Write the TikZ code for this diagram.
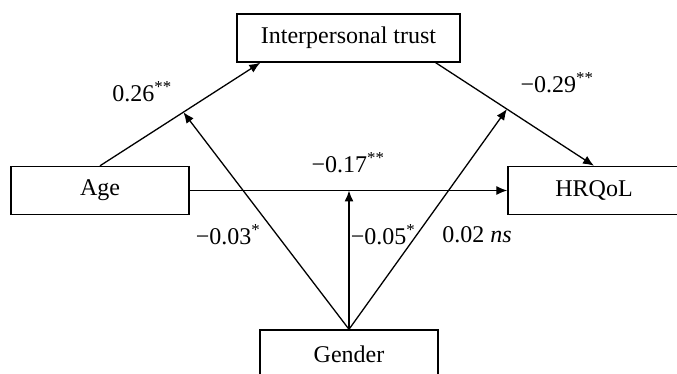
\documentclass[tikz,border=0pt]{standalone}
\usepackage{fontspec}
\setmainfont{Liberation Serif}
\usepackage{tikz}
\usetikzlibrary{arrows.meta}

\tikzset{
  var/.style={draw, line width=1.4pt, minimum height=48pt, inner sep=0pt, font=\fontsize{24}{28}\selectfont},
  path/.style={-{Latex[length=11pt,width=9pt]}, line width=1.3pt},
  coef/.style={inner sep=0pt, font=\fontsize{24}{28}\selectfont}
}

\begin{document}
\begin{tikzpicture}[x=1pt,y=-1pt]
  \clip (0,0) rectangle (677,374);
  % variables
  \node[var, minimum width=223pt] (trust) at (348.5,38) {Interpersonal trust};
  \node[var, minimum width=178pt] (age) at (100,190.5) {Age};
  \node[var, minimum width=172pt] (hrqol) at (594,190.5) {HRQoL};
  \node[var, minimum width=178pt] (gender) at (349,354) {Gender};
  \coordinate (t1) at ([xshift=24pt]trust.south west);
  \coordinate (t2) at ([xshift=-25pt]trust.south east);
  % paths
  \draw[path] (age.north) -- coordinate[pos=0.52] (m1) (t1);
  \draw[path] (t2) -- coordinate[pos=0.45] (m2) (hrqol.north);
  \draw[path] (age.east) -- (hrqol.west);
  % moderation by gender
  \draw[path] (gender.north) -- (m1);
  \draw[path] (gender.north) -- (m2);
  \draw[path] (gender.north) -- (gender.north |- age.east);
  % coefficients
  \node[coef] (c1) at (142,92) {0.26\textsuperscript{**}};
  \node[coef] (c2) at (557,83) {−0.29\textsuperscript{**}};
  \node[coef] (c3) at (348,163) {−0.17\textsuperscript{**}};
  \node[coef] (c4) at (228,235) {−0.03\textsuperscript{*}};
  \node[coef] (c5) at (383,235) {−0.05\textsuperscript{*}};
  \node[coef] (c6) at (477,235) {0.02 \textit{ns}};
\end{tikzpicture}
\end{document}
